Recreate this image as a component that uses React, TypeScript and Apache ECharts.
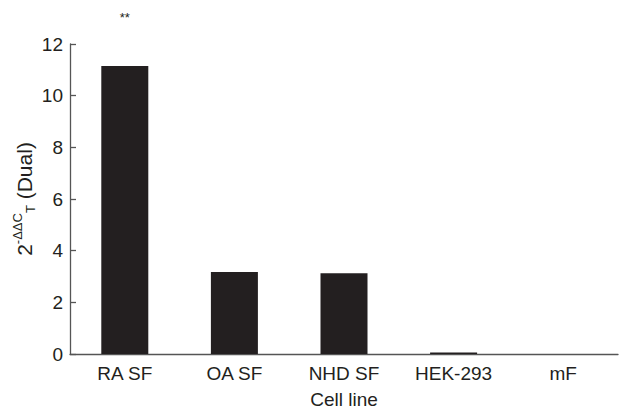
import React, { useEffect, useRef } from "react";
import * as echarts from "echarts";

const categories = ["RA SF", "OA SF", "NHD SF", "HEK-293", "mF"];
const values = [11.15, 3.17, 3.13, 0.06, 0];
const yTicks = [0, 2, 4, 6, 8, 10, 12];
const significance = ["**", "", "", "", ""];

export default function App() {
  const ref = useRef<HTMLDivElement>(null);
  useEffect(() => {
    if (!ref.current) return;
    const chart = echarts.init(ref.current, undefined, { renderer: "svg" });
    const font = "Arial, 'Liberation Sans', sans-serif";
    const ink = "#231f20";
    chart.setOption({
      animation: false,
      textStyle: { fontFamily: font },
      grid: { left: 70, right: 3, top: 44, bottom: 60, containLabel: false, outerBoundsMode: "none" },
      graphic: [
        {
          type: "text",
          x: 24,
          y: 199,
          rotation: Math.PI / 2,
          style: {
            text: "{n|2}{sup|-ΔΔC}{sub|T}{n| (Dual)}",
            align: "center",
            verticalAlign: "middle",
            fill: ink,
            fontFamily: font,
            rich: {
              n: { fontSize: 21, fill: ink, fontFamily: font, lineHeight: 26, verticalAlign: "middle" },
              sup: { fontSize: 13, fill: ink, fontFamily: font, lineHeight: 14, verticalAlign: "top" },
              sub: { fontSize: 13, fill: ink, fontFamily: font, lineHeight: 14, verticalAlign: "bottom" },
            },
          },
        },
      ],
      xAxis: {
        type: "category",
        data: categories,
        name: "Cell line",
        nameLocation: "middle",
        nameGap: 36,
        nameTextStyle: { fontSize: 19, color: ink, fontFamily: font },
        axisLine: { lineStyle: { color: "#555", width: 1.3 } },
        axisTick: { inside: true, length: 6, lineStyle: { color: "#555", width: 1.3 } },
        axisLabel: { fontSize: 19, color: ink, margin: 10, fontFamily: font },
      },
      yAxis: {
        type: "value",
        min: yTicks[0],
        max: yTicks[yTicks.length - 1],
        interval: 2,
        splitLine: { show: false },
        axisLine: { show: true, lineStyle: { color: "#555", width: 1.3 } },
        axisTick: { show: true, inside: true, length: 6, lineStyle: { color: "#555", width: 1.3 } },
        axisLabel: { fontSize: 19, color: ink, margin: 7, fontFamily: font },
      },
      series: [
        {
          type: "bar",
          barWidth: 47,
          data: values.map((v, i) => ({
            value: v,
            label: significance[i]
              ? {
                  show: true,
                  position: "top",
                  distance: 42,
                  formatter: significance[i],
                  fontSize: 13,
                  color: ink,
                  fontFamily: font,
                }
              : { show: false },
          })),
          itemStyle: { color: ink },
        },
      ],
    });
    return () => chart.dispose();
  }, []);
  return <div ref={ref} style={{ width: 621, height: 414, position: "absolute", left: 0, top: 0 }} />;
}
